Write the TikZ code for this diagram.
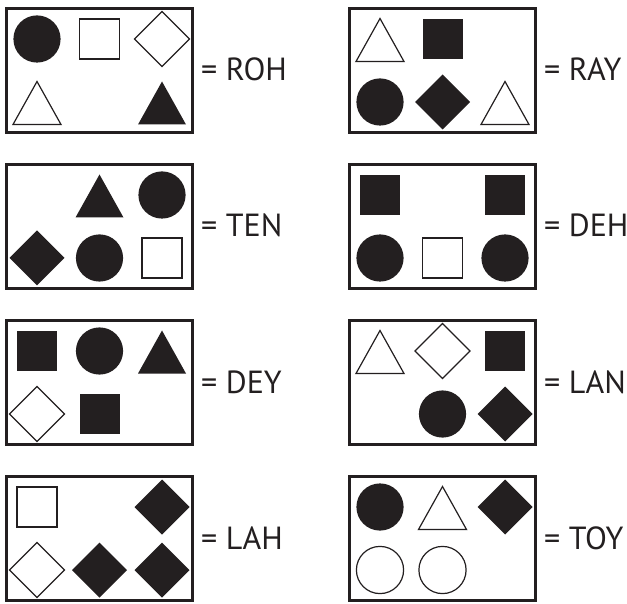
\documentclass[tikz,border=0pt]{standalone}
\usepackage{fontspec}
\setmainfont{PT Sans}
\usepackage{tikz}
\definecolor{ink}{RGB}{35,31,32}

\begin{document}
\begin{tikzpicture}[x=1pt,y=-1pt,
  frame/.style={draw=ink,line width=3pt},
  filled/.style={fill=ink},
  hollow/.style={draw=ink,line width=1.2pt,fill=white},
  word/.style={anchor=base west,inner sep=0pt,text=ink,
    font=\fontsize{32}{36}\selectfont}]
  \useasboundingbox (0,0) rectangle (627,604);
  % shapes, centred on a named cell coordinate
  \def\Circ#1#2{\path[#1] (#2) circle[radius=23.6];}
  \def\Sq#1#2{\path[#1] (#2) ++(-20,-20) rectangle ++(40,40);}
  \def\Dia#1#2{\path[#1] (#2) ++(-27.5,0) -- ++(27.5,-27.5) -- ++(27.5,27.5) -- ++(-27.5,27.5) -- cycle;}
  \def\Tri#1#2{\path[#1] (#2) ++(-24,22.5) -- ++(24,-43) -- ++(24,43) -- cycle;}
  % one card: top-left corner (x,y), word, shapes
  \def\Card#1#2#3#4{%
    \begin{scope}[shift={(#1,#2)}]
      \coordinate (a1) at (32,32);  \coordinate (a2) at (94.5,32);  \coordinate (a3) at (157,32);
      \coordinate (b1) at (32,95);  \coordinate (b2) at (94.5,95);  \coordinate (b3) at (157,95);
      \draw[frame] (1.5,1.5) rectangle (187.5,125.5);
      #4
      \node[word] (w-#3) at (196,74) {= #3};
    \end{scope}}
  % left column
  \Card{5}{7}{ROH}{\Circ{filled}{a1} \Sq{hollow}{a2} \Dia{hollow}{a3}
    \Tri{hollow}{b1} \Tri{filled}{b3}}
  \Card{5}{163}{TEN}{\Tri{filled}{a2} \Circ{filled}{a3}
    \Dia{filled}{b1} \Circ{filled}{b2} \Sq{hollow}{b3}}
  \Card{5}{319}{DEY}{\Sq{filled}{a1} \Circ{filled}{a2} \Tri{filled}{a3}
    \Dia{hollow}{b1} \Sq{filled}{b2}}
  \Card{5}{475}{LAH}{\Sq{hollow}{a1} \Dia{filled}{a3}
    \Dia{hollow}{b1} \Dia{filled}{b2} \Dia{filled}{b3}}
  % right column
  \Card{348}{7}{RAY}{\Tri{hollow}{a1} \Sq{filled}{a2}
    \Circ{filled}{b1} \Dia{filled}{b2} \Tri{hollow}{b3}}
  \Card{348}{163}{DEH}{\Sq{filled}{a1} \Sq{filled}{a3}
    \Circ{filled}{b1} \Sq{hollow}{b2} \Circ{filled}{b3}}
  \Card{348}{319}{LAN}{\Tri{hollow}{a1} \Dia{hollow}{a2} \Sq{filled}{a3}
    \Circ{filled}{b2} \Dia{filled}{b3}}
  \Card{348}{475}{TOY}{\Circ{filled}{a1} \Tri{hollow}{a2} \Dia{filled}{a3}
    \Circ{hollow}{b1} \Circ{hollow}{b2}}
\end{tikzpicture}
\end{document}
